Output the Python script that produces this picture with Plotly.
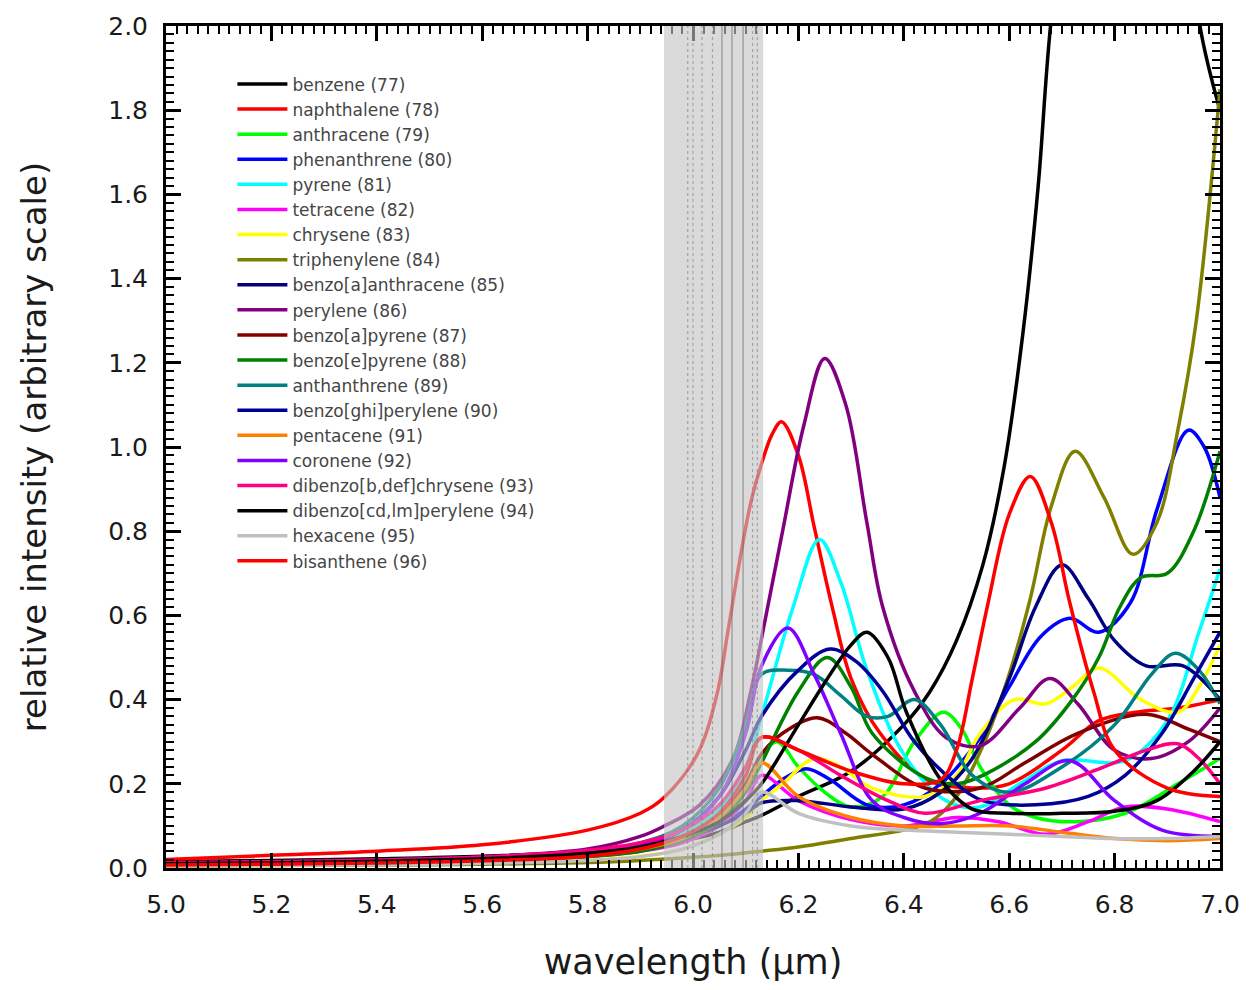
import plotly.graph_objects as go

# ---------------- data ----------------
LEFT_X = [5.0, 5.2, 5.4, 5.6, 5.8, 5.9, 5.98, 6.05, 6.1, 6.13]

names = ["benzene (77)", "naphthalene (78)", "anthracene (79)", "phenanthrene (80)",
         "pyrene (81)", "tetracene (82)", "chrysene (83)", "triphenylene (84)",
         "benzo[a]anthracene (85)", "perylene (86)", "benzo[a]pyrene (87)",
         "benzo[e]pyrene (88)", "anthanthrene (89)", "benzo[ghi]perylene (90)",
         "pentacene (91)", "coronene (92)", "dibenzo[b,def]chrysene (93)",
         "dibenzo[cd,lm]perylene (94)", "hexacene (95)", "bisanthene (96)"]

colors = ["#000000", "#ff0000", "#00ff00", "#0000ff", "#00ffff", "#ff00ff", "#ffff00",
          "#808000", "#000080", "#800080", "#800000", "#008000", "#008080", "#000099",
          "#ff8000", "#8000ff", "#ff0080", "#000000", "#c0c0c0", "#ff0000"]

x77 = LEFT_X + [6.2, 6.3, 6.4, 6.45, 6.5, 6.55, 6.59, 6.626, 6.655, 6.68, 6.75, 6.85, 6.93, 6.962, 7.0]
y77 = [0.015, 0.018, 0.022, 0.028, 0.04, 0.05, 0.065, 0.085, 0.11, 0.125,
       0.17, 0.23, 0.34, 0.42, 0.54, 0.72, 0.95, 1.27, 1.62, 2.02, 2.7, 2.9, 2.4, 2.0, 1.8]

x78 = [5.0, 5.2, 5.4, 5.6, 5.8, 5.9, 5.943, 6.008, 6.045, 6.066, 6.09, 6.11, 6.13,
       6.15, 6.168, 6.2, 6.23, 6.266, 6.3, 6.355, 6.444, 6.53, 6.6, 6.7, 6.77, 6.84, 6.92, 7.0]
y78 = [0.02, 0.03, 0.04, 0.055, 0.09, 0.13, 0.165, 0.27, 0.41, 0.56, 0.74, 0.87, 0.96,
       1.03, 1.06, 0.98, 0.81, 0.61, 0.45, 0.32, 0.21, 0.19, 0.2, 0.28, 0.35, 0.37, 0.38, 0.40]

x79 = LEFT_X + [6.16, 6.2, 6.25, 6.3, 6.36, 6.42, 6.475, 6.51, 6.545, 6.6, 6.65, 6.73, 6.82, 6.92, 7.0]
y79 = [0.008, 0.01, 0.013, 0.018, 0.03, 0.045, 0.07, 0.12, 0.2, 0.27,
       0.3, 0.24, 0.18, 0.145, 0.17, 0.3, 0.37, 0.33, 0.24, 0.15, 0.12, 0.11, 0.13, 0.2, 0.26]

x80 = LEFT_X + [6.17, 6.215, 6.26, 6.33, 6.4, 6.47, 6.545, 6.6, 6.66, 6.715, 6.77, 6.83, 6.88, 6.94, 6.97, 7.0]
y80 = [0.01, 0.012, 0.015, 0.02, 0.03, 0.045, 0.065, 0.1, 0.14, 0.17,
       0.21, 0.236, 0.21, 0.15, 0.15, 0.2, 0.31, 0.43, 0.55, 0.593, 0.56, 0.63, 0.85, 1.04, 1.0, 0.88]

x81 = LEFT_X + [6.19, 6.24, 6.28, 6.33, 6.4, 6.48, 6.545, 6.62, 6.7, 6.82, 6.9, 6.96, 7.0]
y81 = [0.01, 0.012, 0.016, 0.022, 0.035, 0.05, 0.08, 0.14, 0.24, 0.36,
       0.62, 0.78, 0.68, 0.47, 0.27, 0.16, 0.145, 0.2, 0.255, 0.255, 0.35, 0.56, 0.71]

x82 = LEFT_X + [6.2, 6.3, 6.4, 6.5, 6.58, 6.67, 6.75, 6.82, 6.9, 7.0]
y82 = [0.008, 0.01, 0.013, 0.018, 0.028, 0.04, 0.06, 0.1, 0.16, 0.22,
       0.16, 0.115, 0.1, 0.12, 0.11, 0.08, 0.11, 0.145, 0.14, 0.11]

x83 = LEFT_X + [6.17, 6.23, 6.28, 6.34, 6.44, 6.5, 6.545, 6.61, 6.67, 6.72, 6.77, 6.85, 6.92, 6.96, 7.0]
y83 = [0.005, 0.006, 0.008, 0.011, 0.018, 0.028, 0.045, 0.08, 0.12, 0.16,
       0.2, 0.26, 0.24, 0.19, 0.17, 0.22, 0.32, 0.40, 0.39, 0.43, 0.475, 0.40, 0.37, 0.43, 0.53]

x84 = LEFT_X + [6.2, 6.3, 6.4, 6.45, 6.5, 6.55, 6.6, 6.64, 6.68, 6.725, 6.78, 6.835, 6.88, 6.92, 6.955, 7.0]
y84 = [0.005, 0.006, 0.007, 0.009, 0.013, 0.018, 0.024, 0.03, 0.036, 0.04,
       0.05, 0.07, 0.09, 0.11, 0.17, 0.29, 0.46, 0.64, 0.86, 0.99, 0.88, 0.745, 0.82, 1.04, 1.3, 1.85]

x85 = LEFT_X + [6.2, 6.3, 6.4, 6.47, 6.53, 6.6, 6.65, 6.70, 6.75, 6.8, 6.86, 6.93, 7.0]
y85 = [0.008, 0.01, 0.013, 0.018, 0.03, 0.045, 0.07, 0.1, 0.13, 0.155,
       0.16, 0.145, 0.14, 0.18, 0.26, 0.45, 0.62, 0.72, 0.64, 0.54, 0.48, 0.48, 0.40]

x86 = [5.0, 5.2, 5.4, 5.6, 5.8, 5.9, 5.943, 6.013, 6.076, 6.108, 6.137,
       6.17, 6.21, 6.25, 6.29, 6.33, 6.36, 6.42, 6.48, 6.545, 6.62, 6.677, 6.73, 6.8, 6.87, 6.94, 7.0]
y86 = [0.012, 0.015, 0.019, 0.026, 0.045, 0.075, 0.098, 0.15, 0.26, 0.41, 0.59,
       0.8, 1.05, 1.21, 1.1, 0.82, 0.62, 0.42, 0.31, 0.29, 0.38, 0.45, 0.39, 0.28, 0.26, 0.3, 0.38]

x87 = LEFT_X + [6.17, 6.235, 6.29, 6.34, 6.44, 6.545, 6.63, 6.73, 6.86, 6.94, 7.0]
y87 = [0.008, 0.01, 0.013, 0.018, 0.03, 0.045, 0.07, 0.12, 0.2, 0.27,
       0.32, 0.357, 0.32, 0.27, 0.19, 0.19, 0.25, 0.32, 0.365, 0.33, 0.30]

x88 = LEFT_X + [6.2, 6.255, 6.3, 6.34, 6.44, 6.5, 6.55, 6.65, 6.72, 6.77, 6.81, 6.85, 6.9, 6.95, 7.0]
y88 = [0.007, 0.009, 0.012, 0.017, 0.027, 0.04, 0.065, 0.11, 0.18, 0.25,
       0.42, 0.50, 0.43, 0.32, 0.215, 0.2, 0.22, 0.3, 0.4, 0.5, 0.62, 0.69, 0.70, 0.8, 0.99]

x89 = LEFT_X + [6.18, 6.23, 6.28, 6.33, 6.37, 6.42, 6.47, 6.53, 6.6, 6.7, 6.8, 6.87, 6.915, 6.96, 7.0]
y89 = [0.01, 0.012, 0.016, 0.022, 0.038, 0.06, 0.1, 0.19, 0.34, 0.46,
       0.47, 0.46, 0.41, 0.36, 0.36, 0.40, 0.34, 0.22, 0.18, 0.24, 0.34, 0.46, 0.51, 0.47, 0.39]

x90 = LEFT_X + [6.2, 6.26, 6.31, 6.36, 6.42, 6.5, 6.55, 6.65, 6.75, 6.82, 6.89, 6.95, 7.0]
y90 = [0.01, 0.012, 0.016, 0.022, 0.036, 0.055, 0.09, 0.17, 0.28, 0.36,
       0.47, 0.52, 0.49, 0.42, 0.3, 0.2, 0.16, 0.15, 0.17, 0.22, 0.32, 0.45, 0.56]

x91 = LEFT_X + [6.2, 6.3, 6.4, 6.5, 6.6, 6.7, 6.8, 6.9, 7.0]
y91 = [0.008, 0.01, 0.013, 0.018, 0.03, 0.045, 0.07, 0.12, 0.19, 0.25,
       0.17, 0.12, 0.1, 0.1, 0.1, 0.085, 0.07, 0.065, 0.07]

x92 = LEFT_X + [6.18, 6.23, 6.28, 6.34, 6.4, 6.47, 6.545, 6.63, 6.715, 6.8, 6.89, 7.0]
y92 = [0.01, 0.012, 0.016, 0.022, 0.036, 0.055, 0.09, 0.17, 0.32, 0.48,
       0.57, 0.46, 0.32, 0.16, 0.12, 0.105, 0.13, 0.2, 0.255, 0.16, 0.09, 0.075]

x93 = LEFT_X + [6.2, 6.28, 6.37, 6.44, 6.545, 6.67, 6.78, 6.86, 6.92, 6.96, 7.0]
y93 = [0.012, 0.015, 0.019, 0.026, 0.042, 0.06, 0.09, 0.15, 0.24, 0.31,
       0.28, 0.22, 0.16, 0.13, 0.16, 0.19, 0.24, 0.28, 0.295, 0.26, 0.2]

x94 = LEFT_X + [6.2, 6.25, 6.3, 6.33, 6.37, 6.405, 6.47, 6.53, 6.6, 6.7, 6.8, 6.88, 6.95, 7.0]
y94 = [0.01, 0.012, 0.016, 0.022, 0.035, 0.05, 0.075, 0.11, 0.16, 0.2,
       0.34, 0.44, 0.53, 0.56, 0.5, 0.37, 0.21, 0.14, 0.13, 0.13, 0.135, 0.16, 0.23, 0.3]

x95 = LEFT_X + [6.2, 6.3, 6.4, 6.5, 6.6, 6.7, 6.8, 6.9, 7.0]
y95 = [0.005, 0.006, 0.008, 0.011, 0.018, 0.027, 0.045, 0.08, 0.13, 0.18,
       0.13, 0.1, 0.09, 0.085, 0.08, 0.075, 0.07, 0.07, 0.075]

x96 = LEFT_X + [6.2, 6.3, 6.4, 6.47, 6.5, 6.53, 6.56, 6.6, 6.64, 6.68, 6.715, 6.76, 6.8, 6.9, 7.0]
y96 = [0.007, 0.009, 0.012, 0.017, 0.028, 0.045, 0.075, 0.13, 0.22, 0.31,
       0.28, 0.23, 0.2, 0.21, 0.28, 0.45, 0.63, 0.84, 0.93, 0.82, 0.63, 0.42, 0.28, 0.19, 0.17]

xs = [x77, x78, x79, x80, x81, x82, x83, x84, x85, x86, x87, x88, x89, x90, x91, x92, x93, x94, x95, x96]
ys = [y77, y78, y79, y80, y81, y82, y83, y84, y85, y86, y87, y88, y89, y90, y91, y92, y93, y94, y95, y96]

# grey band and the lines inside it
band_edges = [5.945, 6.133]
band_dotted = [5.99, 6.0, 6.017, 6.037, 6.113, 6.122]
band_solid = [6.055, 6.074, 6.095]

x_ticks = [5.0, 5.2, 5.4, 5.6, 5.8, 6.0, 6.2, 6.4, 6.6, 6.8, 7.0]
y_ticks = [0.0, 0.2, 0.4, 0.6, 0.8, 1.0, 1.2, 1.4, 1.6, 1.8, 2.0]

# ---------------- figure ----------------
fig = go.Figure()
for n, c, xv, yv in zip(names, colors, xs, ys):
    fig.add_trace(go.Scatter(x=xv, y=yv, mode="lines", name=n,
                             line=dict(color=c, width=3.5, shape="spline", smoothing=1.0)))

shapes = [dict(type="rect", xref="x", yref="y", x0=band_edges[0], x1=band_edges[1], y0=0, y1=2,
               fillcolor="rgba(196,196,196,0.62)", line=dict(width=0), layer="above")]
for bx in band_dotted:
    shapes.append(dict(type="line", xref="x", yref="y", x0=bx, x1=bx, y0=0, y1=2,
                       line=dict(color="rgba(110,110,110,0.5)", width=1.2, dash="dot"), layer="above"))
for bx in band_solid:
    shapes.append(dict(type="line", xref="x", yref="y", x0=bx, x1=bx, y0=0, y1=2,
                       line=dict(color="rgba(100,100,100,0.6)", width=1.2), layer="above"))

font_main = "DejaVu Sans, sans-serif"
fig.update_layout(
    width=1252, height=990,
    margin=dict(l=166, r=32, t=22, b=122),
    paper_bgcolor="white", plot_bgcolor="white",
    shapes=shapes,
    showlegend=True,
    legend=dict(x=0.063, y=0.952, xanchor="left", yanchor="top",
                bgcolor="rgba(0,0,0,0)", borderwidth=0,
                font=dict(family=font_main, size=17, color="#454545"),
                itemwidth=50, tracegroupgap=0),
    xaxis=dict(range=[5.0, 7.0], tickvals=x_ticks, ticktext=[f"{v:.1f}" for v in x_ticks],
               ticks="inside", ticklen=15, tickwidth=2.5, tickcolor="black",
               showline=True, linewidth=3, linecolor="black", mirror="allticks",
               showgrid=False, zeroline=False, ticklabelstandoff=12,
               minor=dict(dtick=0.02, ticks="inside", ticklen=8, tickwidth=2, tickcolor="black"),
               tickfont=dict(family=font_main, size=25, color="#1a1a1a"),
               title=dict(text="wavelength (µm)", font=dict(family=font_main, size=35, color="#1a1a1a"),
                          standoff=32)),
    yaxis=dict(range=[0.0, 2.0], tickvals=y_ticks, ticktext=[f"{v:.1f}" for v in y_ticks],
               ticks="inside", ticklen=15, tickwidth=2.5, tickcolor="black",
               showline=True, linewidth=3, linecolor="black", mirror="allticks",
               showgrid=False, zeroline=False, ticklabelstandoff=10,
               minor=dict(dtick=0.02, ticks="inside", ticklen=8, tickwidth=2, tickcolor="black"),
               tickfont=dict(family=font_main, size=25, color="#1a1a1a"),
               title=dict(text="relative intensity (arbitrary scale)",
                          font=dict(family=font_main, size=34, color="#1a1a1a"), standoff=52)),
)

fig.write_html("out.html")
